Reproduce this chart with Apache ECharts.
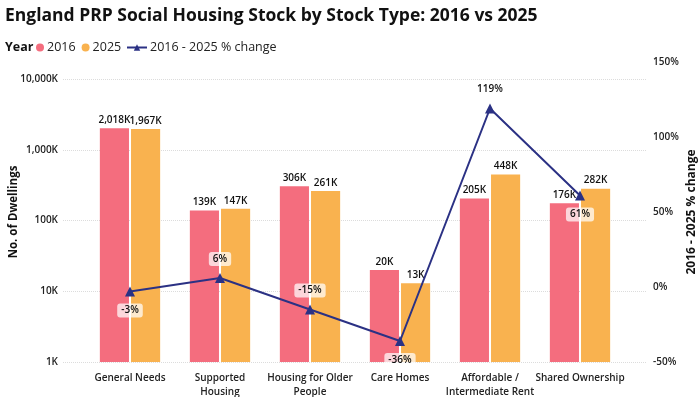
<!DOCTYPE html>
<html>
<head>
<meta charset="utf-8">
<script src="https://cdn.jsdelivr.net/npm/echarts@6/dist/echarts.min.js"></script>
<style>
  html, body { margin: 0; padding: 0; background: #fff; }
  #chart { width: 700px; height: 397px; }
</style>
</head>
<body>
<div id="chart"></div>
<script>
// data
const categories = ['General Needs', 'Supported\nHousing', 'Housing for Older\nPeople', 'Care Homes', 'Affordable /\nIntermediate Rent', 'Shared Ownership'];
const stock2016 = [2018000, 139000, 306000, 20000, 205000, 176000];
const stock2025 = [1967000, 147000, 261000, 13000, 448000, 282000];
const pctChange = [-3, 6, -15, -36, 119, 61];

const FONT = 'Open Sans';
const fmtK = v => Math.round(v / 1000).toLocaleString('en-US') + 'K';

// where each % label sits relative to its marker
const pctLabelSide = ['bottom', 'top', 'top', 'bottom', 'top', 'bottom'];

const chart = echarts.init(document.getElementById('chart'));

const barLabel = {
  show: true,
  position: 'top',
  distance: 3,
  formatter: p => fmtK(p.value),
  fontFamily: FONT,
  fontWeight: 600,
  fontSize: 10,
  color: '#111'
};

chart.setOption({
  animation: false,
  textStyle: { fontFamily: FONT },
  title: [
    {
      text: 'England PRP Social Housing Stock by Stock Type: 2016 vs 2025',
      left: 0,
      top: 2,
      textStyle: { fontFamily: FONT, fontWeight: 700, fontSize: 17.5, color: '#111' }
    },
    {
      text: 'Year',
      left: 0,
      top: 36,
      textStyle: { fontFamily: FONT, fontWeight: 700, fontSize: 12.5, color: '#111' }
    }
  ],
  legend: [
    {
      left: 31,
      top: 36,
      itemWidth: 8,
      itemHeight: 8,
      itemGap: 6,
      textStyle: { fontFamily: FONT, fontSize: 12.5, color: '#222', padding: [0, 0, 0, -2] },
      data: [
        { name: '2016', icon: 'circle' },
        { name: '2025', icon: 'circle' }
      ]
    },
    {
      left: 121,
      top: 36,
      itemWidth: 20,
      itemHeight: 8,
      textStyle: { fontFamily: FONT, fontSize: 12.5, color: '#222', padding: [0, 0, 0, -2] },
      data: ['2016 - 2025 % change']
    }
  ],
  grid: [
    // plotting area for bars and line
    { left: 85, right: 75, top: 62, bottom: 35, outerBoundsMode: 'none', containLabel: false },
    // wider area that only carries the dotted gridlines
    { left: 63, right: 53, top: 79, bottom: 35, outerBoundsMode: 'none', containLabel: false }
  ],
  xAxis: [
    {
      type: 'category',
      gridIndex: 0,
      data: categories,
      axisLine: { show: false },
      axisTick: { show: false },
      axisLabel: {
        interval: 0,
        margin: 9,
        fontFamily: FONT,
        fontWeight: 600,
        fontSize: 10,
        color: '#222',
        lineHeight: 14
      }
    },
    { type: 'value', gridIndex: 1, min: 0, max: 1, show: false }
  ],
  yAxis: [
    {
      type: 'log',
      gridIndex: 0,
      logBase: 10,
      min: 1000,
      max: 17400000,
      name: 'No. of Dwellings',
      nameLocation: 'middle',
      nameGap: 65,
      nameRotate: 90,
      nameMoveOverlap: false,
      nameTextStyle: { fontFamily: FONT, fontWeight: 700, fontSize: 11.5, color: '#111' },
      axisLine: { show: false },
      axisTick: { show: false },
      axisLabel: {
        showMaxLabel: false,
        margin: 27,
        formatter: v => fmtK(v),
        fontFamily: FONT,
        fontWeight: 600,
        fontSize: 10,
        color: '#222'
      },
      splitLine: { show: false }
    },
    {
      type: 'value',
      gridIndex: 0,
      position: 'right',
      min: -50,
      max: 150,
      interval: 50,
      name: '2016 - 2025 % change',
      nameLocation: 'middle',
      nameGap: 61,
      nameRotate: 90,
      nameMoveOverlap: false,
      nameTextStyle: { fontFamily: FONT, fontWeight: 700, fontSize: 12, color: '#111' },
      axisLine: { show: false },
      axisTick: { show: false },
      axisLabel: {
        margin: 28,
        formatter: '{value}%',
        fontFamily: FONT,
        fontWeight: 600,
        fontSize: 10,
        color: '#222'
      },
      splitLine: { show: false }
    },
    {
      type: 'log',
      gridIndex: 1,
      logBase: 10,
      min: 1000,
      max: 10000000,
      axisLine: { show: false },
      axisTick: { show: false },
      axisLabel: { show: false },
      splitLine: { lineStyle: { color: '#dcdcdc', type: 'dotted' } }
    }
  ],
  series: [
    {
      name: '2016',
      type: 'bar',
      data: stock2016,
      barGap: '7%',
      barCategoryGap: '33%',
      itemStyle: { color: '#F46D7E' },
      label: barLabel
    },
    {
      name: '2025',
      type: 'bar',
      data: stock2025,
      itemStyle: { color: '#F9B24F' },
      label: barLabel
    },
    {
      name: '2016 - 2025 % change',
      type: 'line',
      yAxisIndex: 1,
      z: 5,
      symbol: 'triangle',
      symbolSize: 10,
      lineStyle: { color: '#2B3184', width: 2 },
      itemStyle: { color: '#2B3184' },
      data: pctChange.map((v, i) => ({
        value: v,
        label: { position: pctLabelSide[i] }
      })),
      label: {
        show: true,
        distance: 7,
        formatter: p => p.value + '%',
        fontFamily: FONT,
        fontWeight: 600,
        fontSize: 10,
        color: '#111',
        backgroundColor: 'rgba(255,255,255,0.72)',
        padding: [2, 4],
        borderRadius: 3
      }
    }
  ]
});
</script>
</body>
</html>
